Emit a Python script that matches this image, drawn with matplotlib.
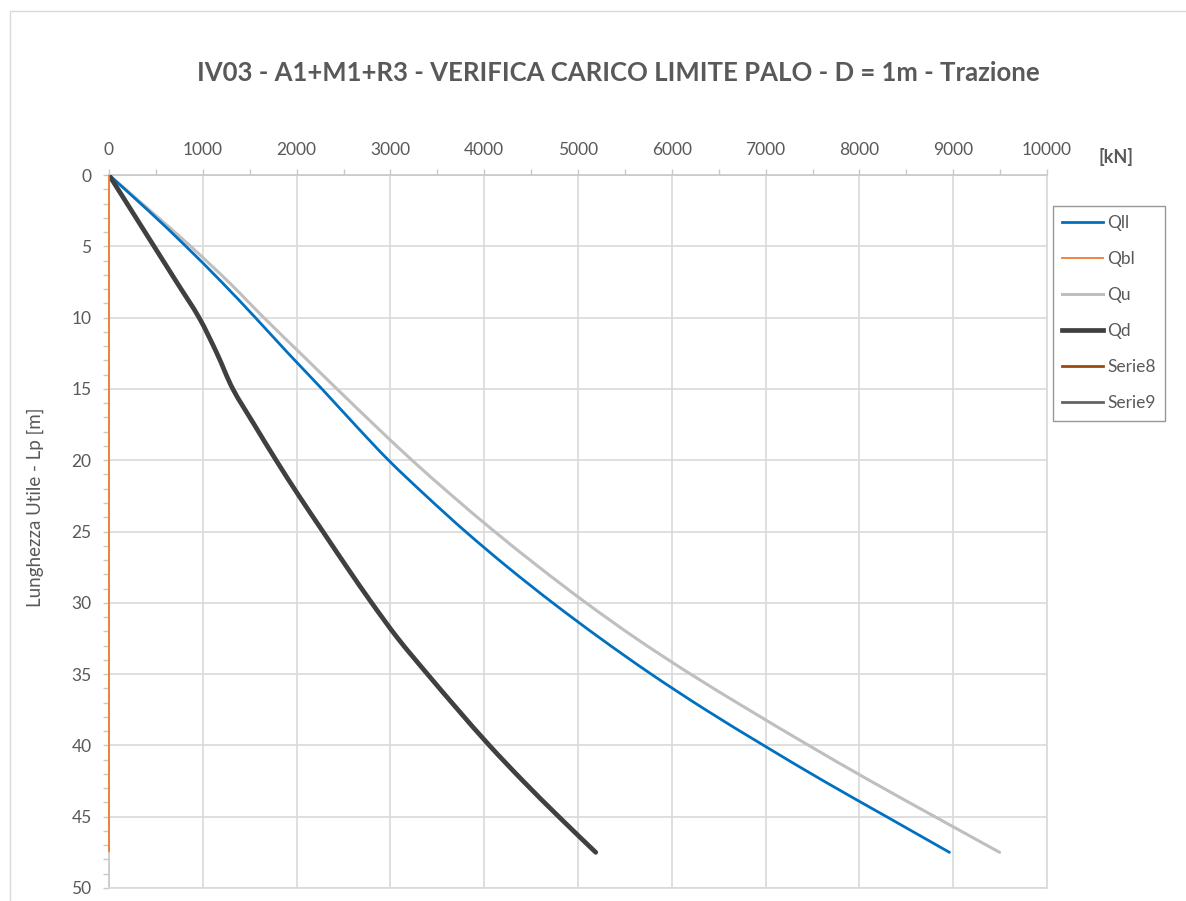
import matplotlib
matplotlib.use("Agg")
import matplotlib.pyplot as plt
from matplotlib.patches import Rectangle, PathPatch
from matplotlib.path import Path
from matplotlib.lines import Line2D
from matplotlib.ticker import MultipleLocator

plt.rcParams['font.family'] = ['Lato', 'DejaVu Sans']

# Pile length [m] and limit loads [kN]
depth = [0, 2.5, 5, 7.5, 10, 12.5, 15, 17.5, 20, 22.5, 25, 27.5,
         30, 32.5, 35, 37.5, 40, 42.5, 45, 47.5]
q_ll = [0, 420, 820, 1200, 1560, 1910, 2270, 2620, 2980, 3380, 3800, 4250,
        4730, 5240, 5780, 6360, 6980, 7620, 8290, 8960]
q_bl = [0, 0, 0, 0, 0, 0, 0, 0, 0, 0, 0, 0,
        0, 0, 0, 0, 0, 0, 0, 0]
q_u = [0, 440, 870, 1275, 1650, 2040, 2430, 2825, 3230, 3660, 4110, 4585,
       5085, 5620, 6200, 6820, 7460, 8120, 8805, 9495]
q_d = [0, 240, 480, 720, 960, 1150, 1320, 1548, 1781, 2025, 2280, 2536,
       2800, 3080, 3395, 3720, 4055, 4415, 4795, 5189]

title = "IV03 - A1+M1+R3 - VERIFICA CARICO LIMITE PALO - D = 1m - Trazione"
x_unit = "[kN]"
y_label = "Lunghezza Utile - Lp [m]"
x_ticks = [0, 1000, 2000, 3000, 4000, 5000, 6000, 7000, 8000, 9000, 10000]
y_ticks = [0, 5, 10, 15, 20, 25, 30, 35, 40, 45, 50]

TXT = '#595959'
GRID = '#D9D9D9'


def smooth_path(xs, ys):
    """Smoothed-line path (Catmull-Rom segments as cubic Beziers)."""
    pts = list(zip(xs, ys))
    n = len(pts)
    verts = [pts[0]]
    codes = [Path.MOVETO]
    for i in range(n - 1):
        p0 = pts[i - 1] if i > 0 else pts[i]
        p1 = pts[i]
        p2 = pts[i + 1]
        p3 = pts[i + 2] if i + 2 < n else pts[i + 1]
        c1 = (p1[0] + (p2[0] - p0[0]) / 6, p1[1] + (p2[1] - p0[1]) / 6)
        c2 = (p2[0] - (p3[0] - p1[0]) / 6, p2[1] - (p3[1] - p1[1]) / 6)
        verts += [c1, c2, p2]
        codes += [Path.CURVE4] * 3
    return Path(verts, codes)


W, H = 1186, 901
fig = plt.figure(figsize=(W / 100, H / 100), dpi=100)
fig.patch.set_facecolor('white')

# chart-area outline
fig.add_artist(Rectangle((9.5 / W, -0.2), 1.5, 1.2 - 10.5 / H,
                         transform=fig.transFigure, fill=False,
                         edgecolor=GRID, lw=1.0))

ax = fig.add_axes([109 / W, 1 - 888 / H, (1047 - 109) / W, (888 - 175) / H])

series = [
    ('Qll', q_ll, '#0070C0', 2.0, 4, True),
    ('Qbl', q_bl, '#ED7D31', 1.3, 6, False),
    ('Qu', q_u, '#BFBFBF', 2.2, 3, True),
    ('Qd', q_d, '#404040', 3.4, 5, True),
]
handles = []
for name, vals, col, lw, z, smooth in series:
    if smooth:
        ax.add_patch(PathPatch(smooth_path(vals, depth), fill=False,
                               edgecolor=col, lw=lw, capstyle='round',
                               joinstyle='round', zorder=z))
    else:
        ax.plot(vals, depth, color=col, lw=lw, solid_capstyle='butt',
                zorder=z, clip_on=False)
    handles.append(Line2D([], [], color=col, lw=lw, label=name))
handles.append(Line2D([], [], color='#9E480E', lw=2.0, label='Serie8'))
handles.append(Line2D([], [], color='#636363', lw=2.0, label='Serie9'))

ax.set_xlim(0, 10000)
ax.set_ylim(50, 0)
ax.xaxis.tick_top()
ax.set_xticks(x_ticks)
ax.set_yticks(y_ticks)
ax.xaxis.set_minor_locator(MultipleLocator(500))
ax.yaxis.set_minor_locator(MultipleLocator(1))

ax.grid(True, which='major', color=GRID, lw=1.2, zorder=0)
ax.set_axisbelow(True)
for s in ax.spines.values():
    s.set_color(GRID)
    s.set_linewidth(1.2)
ax.spines['left'].set_color('#C8C8C8')
ax.spines['top'].set_color('#C8C8C8')

ax.tick_params(axis='both', which='both', color='#C8C8C8', width=1.0,
               labelcolor=TXT, labelsize=12.5)
ax.tick_params(axis='both', which='major', length=4.5, pad=8.0)
ax.tick_params(axis='both', which='minor', length=4.0)
ax.tick_params(axis='x', which='both', top=True, bottom=False)

fig.text(35 / W, 1 - 507 / H, y_label, rotation=90, ha='center', va='center',
         color=TXT, fontsize=13.5)
fig.text(1116 / W, 1 - 157 / H, x_unit, ha='center', va='center',
         color=TXT, fontsize=13, fontweight='bold')

t = fig.text(618 / W, 1 - 73 / H, title, ha='center', va='center',
             color=TXT, fontsize=18, fontweight='bold')
fig.canvas.draw()
wpx = t.get_window_extent().width
t.set_fontsize(18 * 844 / wpx)

leg = fig.legend(handles=handles, loc='upper left',
                 bbox_to_anchor=(1053 / W, 1 - 206 / H),
                 borderaxespad=0, frameon=True, fancybox=False,
                 edgecolor='#7F7F7F', fontsize=12.5, handlelength=2.36,
                 handletextpad=0.25, labelspacing=1.155, borderpad=0.53)
for txt in leg.get_texts():
    txt.set_color(TXT)
leg.get_frame().set_linewidth(1.0)

fig.savefig('out.png', dpi=100)
